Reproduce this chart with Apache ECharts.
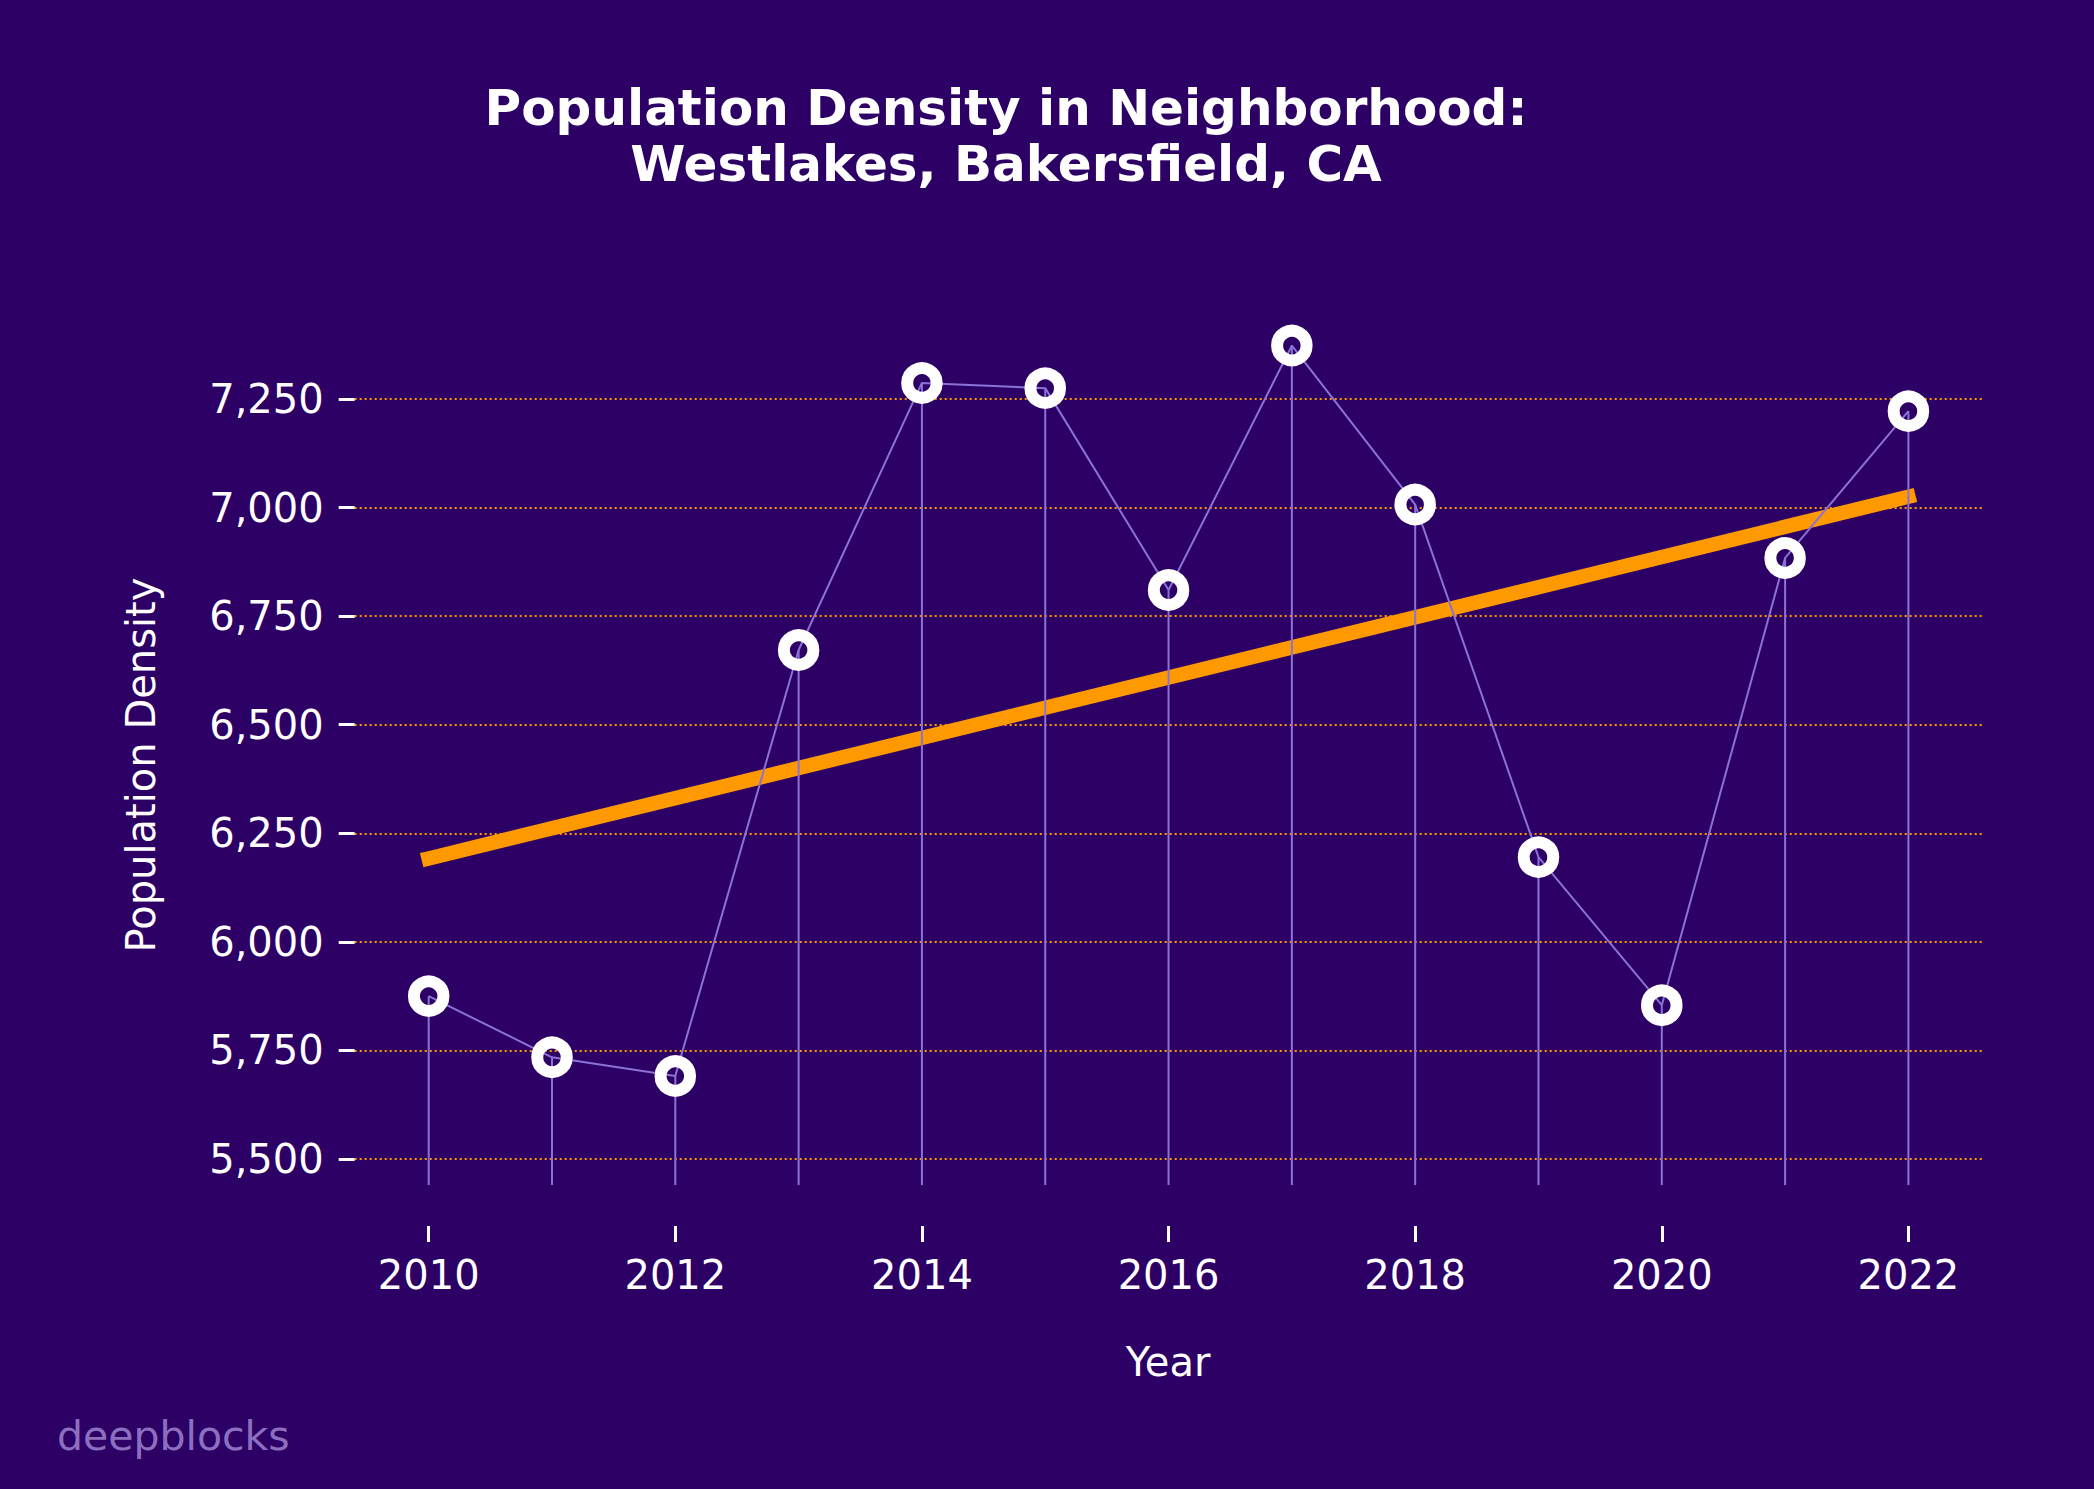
<!DOCTYPE html>
<html><head><meta charset="utf-8">
<script src="https://cdn.jsdelivr.net/npm/echarts@6/dist/echarts.min.js"></script>
<style>html,body{margin:0;padding:0;background:#2d0066;}#c{width:2094px;height:1489px;}</style>
</head><body><div id="c"></div>
<script>
const years = [2010, 2011, 2012, 2013, 2014, 2015, 2016, 2017, 2018, 2019, 2020, 2021, 2022];
const density = [5875, 5734, 5691, 6672, 7287, 7275, 6810, 7373, 7007, 6195, 5854, 6884, 7222];
const trendYears = [2010, 2022];
const trendValues = [6192, 7025];
const xTickValues = [2010, 2012, 2014, 2016, 2018, 2020, 2022];
const yTickValues = [5500, 5750, 6000, 6250, 6500, 6750, 7000, 7250];

const BG = '#2d0066', PURPLE = '#8b72d6', ORANGE = '#ff9900', FONT = 'DejaVu Sans';
const pts = years.map((y, i) => [y, density[i]]);
const trend = trendYears.map((y, i) => [y, trendValues[i]]);

const chart = echarts.init(document.getElementById('c'), null, {renderer: 'svg', width: 2094, height: 1489});
chart.setOption({
  backgroundColor: BG,
  animation: false,
  grid: [
    {left: 354.7, right: 111.6, top: 307.8, bottom: 304},
    {left: 428.7, right: 185.6, top: 307.8, bottom: 263},
    {left: 354.7, right: 111.6, top: 399, bottom: 330}
  ],
  xAxis: [
    {gridIndex: 0, type: 'value', min: 2009.4, max: 2022.6, show: false},
    {gridIndex: 1, type: 'value', min: xTickValues[0], max: xTickValues[xTickValues.length - 1],
     interval: xTickValues[1] - xTickValues[0],
     axisLine: {show: false}, splitLine: {show: false},
     axisTick: {show: true, length: 16, lineStyle: {color: '#ffffff', width: 3}},
     axisLabel: {color: '#ffffff', fontSize: 40, fontFamily: FONT, margin: 29, formatter: v => String(v)}},
    {gridIndex: 2, type: 'value', show: false}
  ],
  yAxis: [
    {gridIndex: 0, type: 'value', min: 5440, max: 7460, show: false},
    {gridIndex: 1, type: 'value', show: false},
    {gridIndex: 2, type: 'value', min: yTickValues[0], max: yTickValues[yTickValues.length - 1],
     interval: yTickValues[1] - yTickValues[0],
     axisLine: {show: false},
     axisTick: {show: true, length: 16, lineStyle: {color: '#ffffff', width: 3}},
     axisLabel: {color: '#ffffff', fontSize: 40, fontFamily: FONT, margin: 31,
                 formatter: v => v.toLocaleString('en-US')},
     splitLine: {show: true, lineStyle: {color: ORANGE, width: 2, type: [2, 3]}}}
  ],
  series: [
    {type: 'line', xAxisIndex: 0, yAxisIndex: 0, data: trend, symbol: 'none', z: 2,
     lineStyle: {color: ORANGE, width: 14.5, cap: 'square'}},
    {type: 'bar', xAxisIndex: 0, yAxisIndex: 0, data: pts, barWidth: 2, z: 3,
     itemStyle: {color: PURPLE}},
    {type: 'line', xAxisIndex: 0, yAxisIndex: 0, data: pts, symbol: 'none', z: 4,
     lineStyle: {color: PURPLE, width: 2}},
    {type: 'scatter', xAxisIndex: 0, yAxisIndex: 0, data: pts, symbol: 'circle', symbolSize: 29.5, z: 5, clip: false,
     itemStyle: {color: 'rgba(0,0,0,0)', borderColor: '#ffffff', borderWidth: 12, opacity: 1}}
  ],
  graphic: [
    {type: 'text', x: 1006, y: 136, style: {text: 'Population Density in Neighborhood:\nWestlakes, Bakersfield, CA',
      fill: '#ffffff', font: 'bold 50px "DejaVu Sans"', lineHeight: 56, align: 'center', verticalAlign: 'middle'}},
    {type: 'text', x: 141, y: 765, rotation: Math.PI / 2, style: {text: 'Population Density',
      fill: '#ffffff', font: '40px "DejaVu Sans"', align: 'center', verticalAlign: 'middle'}},
    {type: 'text', x: 1168, y: 1362, style: {text: 'Year',
      fill: '#ffffff', font: '40px "DejaVu Sans"', align: 'center', verticalAlign: 'middle'}},
    {type: 'text', x: 57, y: 1436, style: {text: 'deepblocks',
      fill: '#8c70c0', font: '41px "DejaVu Sans"', align: 'left', verticalAlign: 'middle'}}
  ]
});
</script></body></html>
